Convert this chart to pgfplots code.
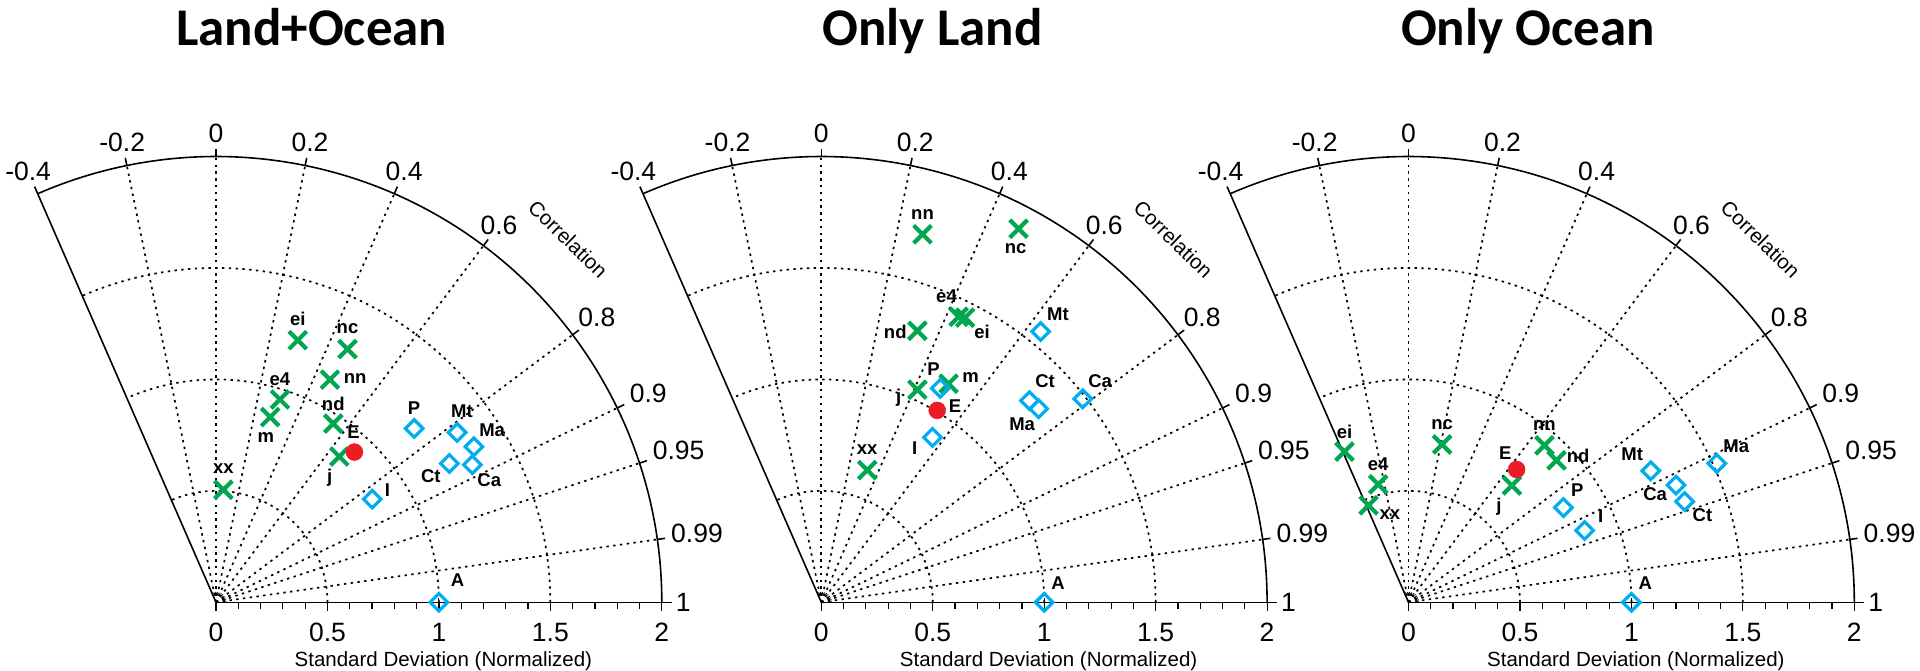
\documentclass[border=0pt]{standalone}
\usepackage{pgfplots}
\usepackage{pgfplotstable}
\pgfplotsset{compat=1.18}
\usepackage{fontspec}
\setmainfont{Liberation Sans}
\newfontfamily\titlefont{Carlito}
\definecolor{mgreen}{RGB}{0,166,80}
\definecolor{mcyan}{RGB}{0,174,239}
\definecolor{mred}{RGB}{237,28,36}
\newcommand\ticks{\fontsize{26.5}{30}\selectfont}
\newcommand\lab{\fontsize{20.5}{24}\selectfont}
\newcommand\ptlab{\fontsize{18.5}{20}\selectfont\bfseries}
\newcommand\ttl{\fontsize{53}{60}\selectfont\titlefont\bfseries}
\def\U{222.9}
\tikzset{gridl/.style={line width=1.7pt, dash pattern=on 2.4pt off 4.4pt},
         frame/.style={line width=1.6pt}}
\newcommand\taylorgrid[1]{%
\begin{scope}[shift={#1}, x=\U pt, y=\U pt]
  \foreach \r in {0.5,1,1.5}{\draw[gridl] (0:\r) arc[start angle=0,end angle=113.578,radius={\r*\U pt}];}
  \foreach \c in {-0.2,0,0.2,0.4,0.6,0.8,0.9,0.95,0.99}{\pgfmathsetmacro\ang{acos(\c)}\draw[gridl] (0,0) -- (\ang:2);}
  \draw[line width=1pt, dash pattern=on 1pt off 1pt] (0:0.045) arc[start angle=0,end angle=113.578,radius={0.045*\U pt}];
  \draw[frame] (0:2) arc[start angle=0,end angle=113.578,radius={2*\U pt}];
  \draw[frame] (0,0) -- (113.578:2);
  \draw[frame] (0,0) -- (2.045,0);
  \foreach \c in {-0.4,-0.2,0,0.2,0.4,0.6,0.8,0.9,0.95,0.99,1}{%
    \pgfmathsetmacro\ang{acos(\c)}\pgfmathsetmacro\anc{\ang+180}%
    \draw[frame] (\ang:2) -- (\ang:2.035);
    \node[anchor=\anc, inner sep=0pt, font=\ticks] at (\ang:2.062) {\c};}
  \foreach \t in {0,0.1,...,2.01}{\draw[line width=1.2pt] (\t,0) -- (\t,-0.028);}
  \foreach \t in {0,0.5,1,1.5,2}{\draw[line width=1.2pt] (\t,0) -- (\t,-0.04);
     \node[anchor=north, inner sep=0pt, font=\ticks] at (\t,-0.0925) {\t};}
  \node[anchor=base, inner sep=0pt, font=\lab] at (1.02,-0.2885) {Standard Deviation (Normalized)};
  \node[rotate=-44, inner sep=0pt, font=\lab] at (45.9:2.27) {Correlation};
\end{scope}}

\pgfplotsset{
 taylor/.style={hide axis, clip=false, x=\U pt, y=\U pt, xmin=-0.9, xmax=2.1, ymin=-0.1, ymax=2.1, anchor=origin},
 lbl/.style={nodes near coords, point meta=explicit symbolic,
   visualization depends on={\thisrow{dx}\as\dx},
   visualization depends on={\thisrow{dy}\as\dy},
   every node near coord/.append style={anchor=center, inner sep=0pt, font=\ptlab, text=black, xshift=\dx pt, yshift=\dy pt}},
 gplot/.style={only marks, mark=x, mark size=12.5pt, color=mgreen, mark options={line width=4.2pt}, lbl},
 cplot/.style={only marks, mark=square, mark size=6.2pt, color=mcyan, mark options={rotate=45, line width=3.2pt}, lbl},
 rplot/.style={only marks, mark=*, mark size=8.5pt, color=mred, lbl},
 aplot/.style={only marks, mark=+, mark size=4pt, color=black, mark options={line width=1pt}}
}

% ---------- Land+Ocean ----------
\pgfplotstableread{
x y dx dy lab
0.367 1.176 0 21.5 ei
0.590 1.136 0 20.3 nc
0.511 0.999 25.2 1.1 nn
0.287 0.910 0 20 e4
0.243 0.831 -4.3 -20.7 m
0.526 0.802 0 19.6 nd
0.553 0.654 -9.5 -20.7 j
0.033 0.505 0 20.7 xx
}\LOg
\pgfplotstableread{
x y dx dy lab
0.889 0.780 0 20.7 P
1.082 0.762 4.8 21 Mt
1.157 0.698 18.2 16.6 Ma
1.047 0.623 -18.6 -12.8 Ct
1.150 0.617 16.9 -15 Ca
0.701 0.463 15.2 8.7 I
1 0 18.6 21.8 A
}\LOc
\pgfplotstableread{
x y dx dy lab
0.621 0.674 -0.9 20 E
}\LOr
% ---------- Only Land ----------
\pgfplotstableread{
x y dx dy lab
0.454 1.651 0 20 nn
0.885 1.676 -3 -19.6 nc
0.616 1.281 -12.1 21 e4
0.645 1.277 16.9 -14.3 ei
0.431 1.218 -22.1 -1.1 nd
0.571 0.981 22.1 6 m
0.431 0.954 -18.6 -7.9 j
0.206 0.593 0 21 xx
}\OLg
\pgfplotstableread{
x y dx dy lab
0.984 1.215 17.3 17.7 Mt
0.534 0.960 -6.9 18.8 P
0.934 0.905 15.6 19.2 Ct
0.975 0.868 -16.5 -15.8 Ma
1.173 0.913 17.3 17.3 Ca
0.499 0.740 -17.8 -10.9 I
1 0 13.9 18.8 A
}\OLc
\pgfplotstableread{
x y dx dy lab
0.520 0.861 17.8 4.1 E
}\OLr
% ---------- Only Ocean ----------
\pgfplotstableread{
x y dx dy lab
-0.287 0.676 0 19.6 ei
-0.136 0.529 0 20.3 e4
-0.179 0.435 21.2 -9.4 xx
0.151 0.708 0 20 nc
0.464 0.524 -13 -21 j
0.610 0.704 0 19.6 nn
0.664 0.637 21.7 4.5 nd
}\OOg
\pgfplotstableread{
x y dx dy lab
0.695 0.425 13.9 17.3 P
0.790 0.322 16 14.7 I
1.087 0.590 -18.6 16.2 Mt
1.200 0.526 -20.8 -9 Ca
1.239 0.452 17.8 -13.2 Ct
1.383 0.623 19.5 17.3 Ma
1 0 13.9 18.8 A
}\OOc
\pgfplotstableread{
x y dx dy lab
0.485 0.596 -11.3 16.6 E
}\OOr

\begin{document}
\begin{tikzpicture}[x=1pt,y=1pt]
\taylorgrid{(216,67.7)}
\taylorgrid{(821.3,67.7)}
\taylorgrid{(1408.5,67.7)}

\begin{axis}[taylor, at={(216pt,67.7pt)}]
\addplot[gplot] table[x=x,y=y,meta=lab] {\LOg};
\addplot[cplot] table[x=x,y=y,meta=lab] {\LOc};
\addplot[rplot] table[x=x,y=y,meta=lab] {\LOr};
\addplot[aplot] coordinates {(1,0)};
\end{axis}

\begin{axis}[taylor, at={(821.3pt,67.7pt)}]
\addplot[gplot] table[x=x,y=y,meta=lab] {\OLg};
\addplot[cplot] table[x=x,y=y,meta=lab] {\OLc};
\addplot[rplot] table[x=x,y=y,meta=lab] {\OLr};
\addplot[aplot] coordinates {(1,0)};
\end{axis}

\begin{axis}[taylor, at={(1408.5pt,67.7pt)}]
\addplot[gplot] table[x=x,y=y,meta=lab] {\OOg};
\addplot[cplot] table[x=x,y=y,meta=lab] {\OOc};
\addplot[rplot] table[x=x,y=y,meta=lab] {\OOr};
\addplot[aplot] coordinates {(1,0)};
\end{axis}

\node[anchor=base, font=\ttl, inner sep=0pt] at (311.7,624) {Land+Ocean};
\node[anchor=base, font=\ttl, inner sep=0pt] at (932.5,624) {Only Land};
\node[anchor=base, font=\ttl, inner sep=0pt] at (1528,624) {Only Ocean};

\pgfresetboundingbox
\path[use as bounding box] (0,0) rectangle (1920,670);
\end{tikzpicture}
\end{document}
